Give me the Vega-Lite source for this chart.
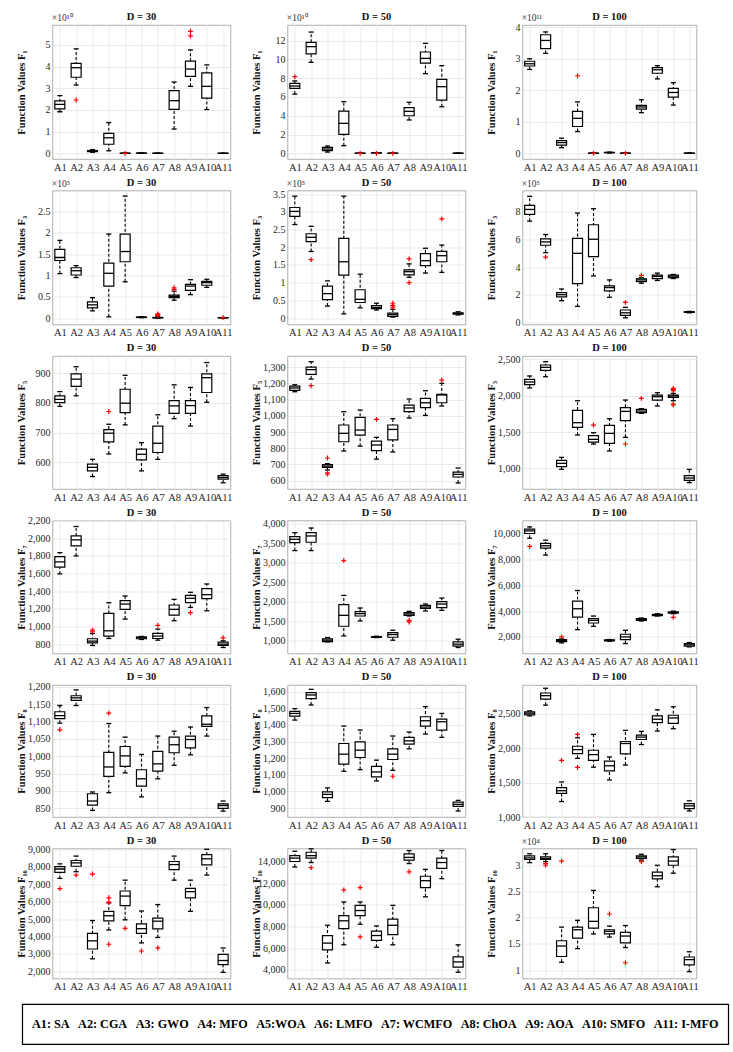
{
"$schema": "https://vega.github.io/schema/vega-lite/v6.json",
"padding": {"left": 16, "top": 11, "right": 3, "bottom": 5},
"background": "white",
"datasets": {"box": [
{"f":"F1","d":30,"a":"A1","lo":1.92,"q1":2.05,"md":2.26,"q3":2.42,"hi":2.66},
{"f":"F1","d":30,"a":"A2","lo":3.15,"q1":3.51,"md":3.95,"q3":4.15,"hi":4.82},
{"f":"F1","d":30,"a":"A3","lo":0.05,"q1":0.08,"md":0.1,"q3":0.13,"hi":0.17},
{"f":"F1","d":30,"a":"A4","lo":0.12,"q1":0.42,"md":0.72,"q3":0.92,"hi":1.42},
{"f":"F1","d":30,"a":"A5","lo":0,"q1":0.004,"md":0.006,"q3":0.008,"hi":0.012},
{"f":"F1","d":30,"a":"A6","lo":0.005,"q1":0.01,"md":0.012,"q3":0.015,"hi":0.02},
{"f":"F1","d":30,"a":"A7","lo":0,"q1":0.003,"md":0.005,"q3":0.007,"hi":0.01},
{"f":"F1","d":30,"a":"A8","lo":1.12,"q1":2.03,"md":2.43,"q3":2.89,"hi":3.29},
{"f":"F1","d":30,"a":"A9","lo":3.09,"q1":3.55,"md":3.89,"q3":4.25,"hi":4.77},
{"f":"F1","d":30,"a":"A10","lo":2.02,"q1":2.55,"md":3.09,"q3":3.71,"hi":4.08},
{"f":"F1","d":30,"a":"A11","lo":0,"q1":0.003,"md":0.005,"q3":0.007,"hi":0.01},
{"f":"F1","d":30,"a":"A2","v":2.46},
{"f":"F1","d":30,"a":"A5","v":0},
{"f":"F1","d":30,"a":"A9","v":5.42},
{"f":"F1","d":30,"a":"A9","v":5.63},
{"f":"F1","d":50,"a":"A1","lo":6.3,"q1":6.91,"md":7.16,"q3":7.45,"hi":7.7},
{"f":"F1","d":50,"a":"A2","lo":9.68,"q1":10.57,"md":11.35,"q3":11.8,"hi":12.9},
{"f":"F1","d":50,"a":"A3","lo":0.14,"q1":0.28,"md":0.46,"q3":0.64,"hi":0.78},
{"f":"F1","d":50,"a":"A4","lo":0.82,"q1":2.02,"md":3.19,"q3":4.5,"hi":5.5},
{"f":"F1","d":50,"a":"A5","lo":0,"q1":0.01,"md":0.015,"q3":0.02,"hi":0.03},
{"f":"F1","d":50,"a":"A6","lo":0.02,"q1":0.04,"md":0.05,"q3":0.06,"hi":0.08},
{"f":"F1","d":50,"a":"A7","lo":0,"q1":0.01,"md":0.015,"q3":0.02,"hi":0.03},
{"f":"F1","d":50,"a":"A8","lo":3.55,"q1":4.0,"md":4.47,"q3":4.86,"hi":5.43},
{"f":"F1","d":50,"a":"A9","lo":8.48,"q1":9.6,"md":10.1,"q3":10.78,"hi":11.7},
{"f":"F1","d":50,"a":"A10","lo":4.96,"q1":5.67,"md":7.09,"q3":7.87,"hi":9.33},
{"f":"F1","d":50,"a":"A11","lo":0,"q1":0.01,"md":0.015,"q3":0.02,"hi":0.03},
{"f":"F1","d":50,"a":"A1","v":8.15},
{"f":"F1","d":50,"a":"A5","v":0},
{"f":"F1","d":50,"a":"A6","v":0},
{"f":"F1","d":50,"a":"A7","v":0},
{"f":"F1","d":100,"a":"A1","lo":2.66,"q1":2.77,"md":2.84,"q3":2.92,"hi":3.0},
{"f":"F1","d":100,"a":"A2","lo":3.17,"q1":3.32,"md":3.58,"q3":3.76,"hi":3.85},
{"f":"F1","d":100,"a":"A3","lo":0.18,"q1":0.26,"md":0.34,"q3":0.4,"hi":0.48},
{"f":"F1","d":100,"a":"A4","lo":0.69,"q1":0.85,"md":1.11,"q3":1.33,"hi":1.63},
{"f":"F1","d":100,"a":"A5","lo":0,"q1":0.003,"md":0.005,"q3":0.007,"hi":0.01},
{"f":"F1","d":100,"a":"A6","lo":0.01,"q1":0.02,"md":0.025,"q3":0.03,"hi":0.04},
{"f":"F1","d":100,"a":"A7","lo":0,"q1":0.003,"md":0.005,"q3":0.007,"hi":0.01},
{"f":"F1","d":100,"a":"A8","lo":1.29,"q1":1.4,"md":1.47,"q3":1.52,"hi":1.7},
{"f":"F1","d":100,"a":"A9","lo":2.36,"q1":2.54,"md":2.65,"q3":2.72,"hi":2.78},
{"f":"F1","d":100,"a":"A10","lo":1.53,"q1":1.78,"md":1.93,"q3":2.06,"hi":2.24},
{"f":"F1","d":100,"a":"A11","lo":0,"q1":0.003,"md":0.005,"q3":0.007,"hi":0.01},
{"f":"F1","d":100,"a":"A4","v":2.46},
{"f":"F1","d":100,"a":"A5","v":0},
{"f":"F1","d":100,"a":"A7","v":0},
{"f":"F3","d":30,"a":"A1","lo":1.04,"q1":1.35,"md":1.42,"q3":1.61,"hi":1.82},
{"f":"F3","d":30,"a":"A2","lo":0.95,"q1":1.01,"md":1.11,"q3":1.18,"hi":1.23},
{"f":"F3","d":30,"a":"A3","lo":0.17,"q1":0.24,"md":0.31,"q3":0.38,"hi":0.48},
{"f":"F3","d":30,"a":"A4","lo":0.03,"q1":0.75,"md":1.05,"q3":1.29,"hi":1.97},
{"f":"F3","d":30,"a":"A5","lo":0.85,"q1":1.32,"md":1.56,"q3":1.97,"hi":2.86},
{"f":"F3","d":30,"a":"A6","lo":0.01,"q1":0.015,"md":0.02,"q3":0.025,"hi":0.03},
{"f":"F3","d":30,"a":"A7","lo":0.0,"q1":0.005,"md":0.01,"q3":0.015,"hi":0.03},
{"f":"F3","d":30,"a":"A8","lo":0.42,"q1":0.48,"md":0.51,"q3":0.54,"hi":0.63},
{"f":"F3","d":30,"a":"A9","lo":0.55,"q1":0.65,"md":0.75,"q3":0.79,"hi":0.9},
{"f":"F3","d":30,"a":"A10","lo":0.72,"q1":0.77,"md":0.83,"q3":0.86,"hi":0.91},
{"f":"F3","d":30,"a":"A11","lo":0.0,"q1":0.005,"md":0.01,"q3":0.012,"hi":0.015},
{"f":"F3","d":30,"a":"A7","v":0.06},
{"f":"F3","d":30,"a":"A7","v":0.08},
{"f":"F3","d":30,"a":"A7","v":0.1},
{"f":"F3","d":30,"a":"A8","v":0.67},
{"f":"F3","d":30,"a":"A8","v":0.71},
{"f":"F3","d":30,"a":"A11","v":0.01},
{"f":"F3","d":50,"a":"A1","lo":2.64,"q1":2.87,"md":3.01,"q3":3.12,"hi":3.44},
{"f":"F3","d":50,"a":"A2","lo":1.88,"q1":2.16,"md":2.28,"q3":2.38,"hi":2.59},
{"f":"F3","d":50,"a":"A3","lo":0.34,"q1":0.52,"md":0.69,"q3":0.9,"hi":1.05},
{"f":"F3","d":50,"a":"A4","lo":0.12,"q1":1.21,"md":1.59,"q3":2.25,"hi":3.44},
{"f":"F3","d":50,"a":"A5","lo":0.29,"q1":0.44,"md":0.53,"q3":0.8,"hi":1.24},
{"f":"F3","d":50,"a":"A6","lo":0.23,"q1":0.27,"md":0.3,"q3":0.35,"hi":0.42},
{"f":"F3","d":50,"a":"A7","lo":0.03,"q1":0.05,"md":0.1,"q3":0.14,"hi":0.25},
{"f":"F3","d":50,"a":"A8","lo":1.15,"q1":1.22,"md":1.31,"q3":1.36,"hi":1.53},
{"f":"F3","d":50,"a":"A9","lo":1.27,"q1":1.48,"md":1.62,"q3":1.82,"hi":1.97},
{"f":"F3","d":50,"a":"A10","lo":1.29,"q1":1.59,"md":1.76,"q3":1.88,"hi":2.06},
{"f":"F3","d":50,"a":"A11","lo":0.09,"q1":0.11,"md":0.13,"q3":0.15,"hi":0.18},
{"f":"F3","d":50,"a":"A2","v":1.65},
{"f":"F3","d":50,"a":"A7","v":0.31},
{"f":"F3","d":50,"a":"A7","v":0.36},
{"f":"F3","d":50,"a":"A7","v":0.42},
{"f":"F3","d":50,"a":"A8","v":1.67},
{"f":"F3","d":50,"a":"A8","v":1.0},
{"f":"F3","d":50,"a":"A10","v":2.8},
{"f":"F3","d":100,"a":"A1","lo":7.3,"q1":7.78,"md":8.14,"q3":8.43,"hi":9.08},
{"f":"F3","d":100,"a":"A2","lo":5.04,"q1":5.57,"md":5.81,"q3":6.02,"hi":6.34},
{"f":"F3","d":100,"a":"A3","lo":1.59,"q1":1.86,"md":2.02,"q3":2.17,"hi":2.43},
{"f":"F3","d":100,"a":"A4","lo":1.18,"q1":2.82,"md":4.99,"q3":6.07,"hi":7.88},
{"f":"F3","d":100,"a":"A5","lo":3.37,"q1":4.75,"md":6.0,"q3":7.04,"hi":8.19},
{"f":"F3","d":100,"a":"A6","lo":1.83,"q1":2.29,"md":2.53,"q3":2.65,"hi":3.08},
{"f":"F3","d":100,"a":"A7","lo":0.36,"q1":0.53,"md":0.72,"q3":0.92,"hi":1.11},
{"f":"F3","d":100,"a":"A8","lo":2.84,"q1":2.96,"md":3.08,"q3":3.16,"hi":3.25},
{"f":"F3","d":100,"a":"A9","lo":3.04,"q1":3.18,"md":3.33,"q3":3.42,"hi":3.57},
{"f":"F3","d":100,"a":"A10","lo":3.18,"q1":3.25,"md":3.35,"q3":3.42,"hi":3.47},
{"f":"F3","d":100,"a":"A11","lo":0.72,"q1":0.75,"md":0.77,"q3":0.8,"hi":0.82},
{"f":"F3","d":100,"a":"A2","v":4.72},
{"f":"F3","d":100,"a":"A7","v":1.47},
{"f":"F3","d":100,"a":"A8","v":3.4},
{"f":"F5","d":30,"a":"A1","lo":788,"q1":801,"md":812,"q3":824,"hi":838},
{"f":"F5","d":30,"a":"A2","lo":824,"q1":856,"md":880,"q3":898,"hi":922},
{"f":"F5","d":30,"a":"A3","lo":552,"q1":571,"md":583,"q3":594,"hi":610},
{"f":"F5","d":30,"a":"A4","lo":628,"q1":669,"md":698,"q3":710,"hi":728},
{"f":"F5","d":30,"a":"A5","lo":726,"q1":767,"md":799,"q3":846,"hi":893},
{"f":"F5","d":30,"a":"A6","lo":571,"q1":608,"md":627,"q3":644,"hi":666},
{"f":"F5","d":30,"a":"A7","lo":610,"q1":633,"md":664,"q3":722,"hi":760},
{"f":"F5","d":30,"a":"A8","lo":747,"q1":765,"md":790,"q3":808,"hi":861},
{"f":"F5","d":30,"a":"A9","lo":722,"q1":765,"md":791,"q3":808,"hi":852},
{"f":"F5","d":30,"a":"A10","lo":802,"q1":835,"md":885,"q3":898,"hi":936},
{"f":"F5","d":30,"a":"A11","lo":531,"q1":543,"md":549,"q3":555,"hi":560},
{"f":"F5","d":30,"a":"A4","v":771},
{"f":"F5","d":50,"a":"A1","lo":1148,"q1":1156,"md":1171,"q3":1183,"hi":1191},
{"f":"F5","d":50,"a":"A2","lo":1226,"q1":1255,"md":1284,"q3":1300,"hi":1333},
{"f":"F5","d":50,"a":"A3","lo":666,"q1":682,"md":690,"q3":699,"hi":705},
{"f":"F5","d":50,"a":"A4","lo":783,"q1":840,"md":892,"q3":943,"hi":1025},
{"f":"F5","d":50,"a":"A5","lo":813,"q1":881,"md":912,"q3":990,"hi":1035},
{"f":"F5","d":50,"a":"A6","lo":733,"q1":785,"md":820,"q3":844,"hi":867},
{"f":"F5","d":50,"a":"A7","lo":777,"q1":851,"md":916,"q3":943,"hi":982},
{"f":"F5","d":50,"a":"A8","lo":986,"q1":1025,"md":1048,"q3":1066,"hi":1103},
{"f":"F5","d":50,"a":"A9","lo":1002,"q1":1050,"md":1080,"q3":1107,"hi":1154},
{"f":"F5","d":50,"a":"A10","lo":1060,"q1":1080,"md":1128,"q3":1132,"hi":1200},
{"f":"F5","d":50,"a":"A11","lo":586,"q1":623,"md":639,"q3":653,"hi":678},
{"f":"F5","d":50,"a":"A2","v":1185},
{"f":"F5","d":50,"a":"A3","v":740},
{"f":"F5","d":50,"a":"A3","v":649},
{"f":"F5","d":50,"a":"A3","v":641},
{"f":"F5","d":50,"a":"A6","v":978},
{"f":"F5","d":50,"a":"A10","v":1220},
{"f":"F5","d":100,"a":"A1","lo":2106,"q1":2151,"md":2188,"q3":2225,"hi":2271},
{"f":"F5","d":100,"a":"A2","lo":2261,"q1":2349,"md":2390,"q3":2422,"hi":2468},
{"f":"F5","d":100,"a":"A3","lo":986,"q1":1023,"md":1069,"q3":1110,"hi":1151},
{"f":"F5","d":100,"a":"A4","lo":1459,"q1":1564,"md":1628,"q3":1798,"hi":1931},
{"f":"F5","d":100,"a":"A5","lo":1335,"q1":1362,"md":1399,"q3":1450,"hi":1491},
{"f":"F5","d":100,"a":"A6","lo":1239,"q1":1344,"md":1482,"q3":1592,"hi":1683},
{"f":"F5","d":100,"a":"A7","lo":1427,"q1":1656,"md":1784,"q3":1835,"hi":1940},
{"f":"F5","d":100,"a":"A8","lo":1757,"q1":1766,"md":1789,"q3":1812,"hi":1821},
{"f":"F5","d":100,"a":"A9","lo":1858,"q1":1940,"md":1986,"q3":2009,"hi":2041},
{"f":"F5","d":100,"a":"A10","lo":1931,"q1":1977,"md":1995,"q3":2009,"hi":2032},
{"f":"F5","d":100,"a":"A11","lo":803,"q1":835,"md":867,"q3":899,"hi":986},
{"f":"F5","d":100,"a":"A5","v":1596},
{"f":"F5","d":100,"a":"A7","v":1335},
{"f":"F5","d":100,"a":"A8","v":1963},
{"f":"F5","d":100,"a":"A10","v":2101},
{"f":"F5","d":100,"a":"A10","v":2069},
{"f":"F5","d":100,"a":"A10","v":2085},
{"f":"F5","d":100,"a":"A10","v":1885},
{"f":"F5","d":100,"a":"A10","v":1872},
{"f":"F7","d":30,"a":"A1","lo":1595,"q1":1671,"md":1731,"q3":1792,"hi":1837},
{"f":"F7","d":30,"a":"A2","lo":1799,"q1":1913,"md":1981,"q3":2026,"hi":2132},
{"f":"F7","d":30,"a":"A3","lo":785,"q1":815,"md":834,"q3":861,"hi":921},
{"f":"F7","d":30,"a":"A4","lo":864,"q1":891,"md":951,"q3":1148,"hi":1269},
{"f":"F7","d":30,"a":"A5","lo":1084,"q1":1194,"md":1254,"q3":1292,"hi":1345},
{"f":"F7","d":30,"a":"A6","lo":853,"q1":861,"md":872,"q3":883,"hi":887},
{"f":"F7","d":30,"a":"A7","lo":845,"q1":864,"md":891,"q3":921,"hi":970},
{"f":"F7","d":30,"a":"A8","lo":1065,"q1":1129,"md":1194,"q3":1243,"hi":1307},
{"f":"F7","d":30,"a":"A9","lo":1216,"q1":1269,"md":1319,"q3":1353,"hi":1387},
{"f":"F7","d":30,"a":"A10","lo":1178,"q1":1315,"md":1360,"q3":1428,"hi":1481},
{"f":"F7","d":30,"a":"A11","lo":762,"q1":785,"md":800,"q3":823,"hi":838},
{"f":"F7","d":30,"a":"A3","v":940},
{"f":"F7","d":30,"a":"A3","v":959},
{"f":"F7","d":30,"a":"A7","v":1012},
{"f":"F7","d":30,"a":"A9","v":1156},
{"f":"F7","d":30,"a":"A11","v":872},
{"f":"F7","d":50,"a":"A1","lo":3312,"q1":3517,"md":3602,"q3":3671,"hi":3773},
{"f":"F7","d":50,"a":"A2","lo":3312,"q1":3526,"md":3688,"q3":3773,"hi":3892},
{"f":"F7","d":50,"a":"A3","lo":966,"q1":974,"md":1009,"q3":1043,"hi":1077},
{"f":"F7","d":50,"a":"A4","lo":1119,"q1":1367,"md":1648,"q3":1921,"hi":2160},
{"f":"F7","d":50,"a":"A5","lo":1503,"q1":1631,"md":1691,"q3":1742,"hi":1836},
{"f":"F7","d":50,"a":"A6","lo":1077,"q1":1085,"md":1094,"q3":1102,"hi":1111},
{"f":"F7","d":50,"a":"A7","lo":1009,"q1":1085,"md":1154,"q3":1205,"hi":1265},
{"f":"F7","d":50,"a":"A8","lo":1631,"q1":1648,"md":1683,"q3":1717,"hi":1751},
{"f":"F7","d":50,"a":"A9","lo":1759,"q1":1828,"md":1862,"q3":1904,"hi":1939},
{"f":"F7","d":50,"a":"A10","lo":1776,"q1":1845,"md":1939,"q3":1998,"hi":2092},
{"f":"F7","d":50,"a":"A11","lo":821,"q1":855,"md":906,"q3":966,"hi":1034},
{"f":"F7","d":50,"a":"A4","v":3056},
{"f":"F7","d":50,"a":"A8","v":1520},
{"f":"F7","d":50,"a":"A8","v":1478},
{"f":"F7","d":100,"a":"A1","lo":9660,"q1":10021,"md":10226,"q3":10355,"hi":10535},
{"f":"F7","d":100,"a":"A2","lo":8350,"q1":8890,"md":9070,"q3":9250,"hi":9506},
{"f":"F7","d":100,"a":"A3","lo":1537,"q1":1640,"md":1717,"q3":1794,"hi":1846},
{"f":"F7","d":100,"a":"A4","lo":2566,"q1":3542,"md":4185,"q3":4776,"hi":5599},
{"f":"F7","d":100,"a":"A5","lo":2823,"q1":3080,"md":3285,"q3":3414,"hi":3620},
{"f":"F7","d":100,"a":"A6","lo":1666,"q1":1692,"md":1743,"q3":1769,"hi":1794},
{"f":"F7","d":100,"a":"A7","lo":1486,"q1":1794,"md":2000,"q3":2206,"hi":2514},
{"f":"F7","d":100,"a":"A8","lo":3234,"q1":3285,"md":3337,"q3":3414,"hi":3465},
{"f":"F7","d":100,"a":"A9","lo":3620,"q1":3645,"md":3697,"q3":3748,"hi":3800},
{"f":"F7","d":100,"a":"A10","lo":3800,"q1":3851,"md":3902,"q3":3954,"hi":4005},
{"f":"F7","d":100,"a":"A11","lo":1229,"q1":1280,"md":1383,"q3":1486,"hi":1563},
{"f":"F7","d":100,"a":"A1","v":9018},
{"f":"F7","d":100,"a":"A3","v":2000},
{"f":"F7","d":100,"a":"A10","v":3517},
{"f":"F8","d":30,"a":"A1","lo":1095,"q1":1108,"md":1117,"q3":1128,"hi":1146},
{"f":"F8","d":30,"a":"A2","lo":1146,"q1":1161,"md":1168,"q3":1174,"hi":1191},
{"f":"F8","d":30,"a":"A3","lo":844,"q1":859,"md":871,"q3":892,"hi":897},
{"f":"F8","d":30,"a":"A4","lo":895,"q1":942,"md":969,"q3":1011,"hi":1094},
{"f":"F8","d":30,"a":"A5","lo":952,"q1":971,"md":1001,"q3":1028,"hi":1055},
{"f":"F8","d":30,"a":"A6","lo":883,"q1":914,"md":935,"q3":961,"hi":1005},
{"f":"F8","d":30,"a":"A7","lo":935,"q1":957,"md":978,"q3":1014,"hi":1058},
{"f":"F8","d":30,"a":"A8","lo":974,"q1":1010,"md":1033,"q3":1055,"hi":1072},
{"f":"F8","d":30,"a":"A9","lo":1004,"q1":1024,"md":1048,"q3":1058,"hi":1084},
{"f":"F8","d":30,"a":"A10","lo":1058,"q1":1086,"md":1092,"q3":1116,"hi":1140},
{"f":"F8","d":30,"a":"A11","lo":842,"q1":850,"md":858,"q3":863,"hi":871},
{"f":"F8","d":30,"a":"A1","v":1076},
{"f":"F8","d":30,"a":"A4","v":1124},
{"f":"F8","d":50,"a":"A1","lo":1429,"q1":1453,"md":1469,"q3":1481,"hi":1498},
{"f":"F8","d":50,"a":"A2","lo":1520,"q1":1558,"md":1580,"q3":1594,"hi":1614},
{"f":"F8","d":50,"a":"A3","lo":940,"q1":962,"md":982,"q3":997,"hi":1021},
{"f":"F8","d":50,"a":"A4","lo":1121,"q1":1164,"md":1224,"q3":1288,"hi":1393},
{"f":"F8","d":50,"a":"A5","lo":1131,"q1":1204,"md":1248,"q3":1298,"hi":1369},
{"f":"F8","d":50,"a":"A6","lo":1063,"q1":1087,"md":1117,"q3":1151,"hi":1188},
{"f":"F8","d":50,"a":"A7","lo":1127,"q1":1192,"md":1224,"q3":1256,"hi":1333},
{"f":"F8","d":50,"a":"A8","lo":1256,"q1":1284,"md":1304,"q3":1325,"hi":1357},
{"f":"F8","d":50,"a":"A9","lo":1345,"q1":1393,"md":1425,"q3":1449,"hi":1510},
{"f":"F8","d":50,"a":"A10","lo":1325,"q1":1369,"md":1419,"q3":1435,"hi":1469},
{"f":"F8","d":50,"a":"A11","lo":882,"q1":910,"md":922,"q3":936,"hi":946},
{"f":"F8","d":50,"a":"A7","v":1091},
{"f":"F8","d":100,"a":"A1","lo":2471,"q1":2485,"md":2510,"q3":2529,"hi":2544},
{"f":"F8","d":100,"a":"A2","lo":2627,"q1":2716,"md":2765,"q3":2804,"hi":2873},
{"f":"F8","d":100,"a":"A3","lo":1225,"q1":1343,"md":1382,"q3":1426,"hi":1510},
{"f":"F8","d":100,"a":"A4","lo":1853,"q1":1922,"md":1980,"q3":2029,"hi":2152},
{"f":"F8","d":100,"a":"A5","lo":1725,"q1":1824,"md":1907,"q3":1971,"hi":2201},
{"f":"F8","d":100,"a":"A6","lo":1539,"q1":1672,"md":1745,"q3":1814,"hi":1873},
{"f":"F8","d":100,"a":"A7","lo":1755,"q1":1917,"md":2069,"q3":2098,"hi":2260},
{"f":"F8","d":100,"a":"A8","lo":2054,"q1":2127,"md":2162,"q3":2191,"hi":2245},
{"f":"F8","d":100,"a":"A9","lo":2250,"q1":2373,"md":2422,"q3":2471,"hi":2559},
{"f":"F8","d":100,"a":"A10","lo":2284,"q1":2363,"md":2441,"q3":2480,"hi":2603},
{"f":"F8","d":100,"a":"A11","lo":1088,"q1":1123,"md":1162,"q3":1196,"hi":1235},
{"f":"F8","d":100,"a":"A3","v":1824},
{"f":"F8","d":100,"a":"A4","v":2201},
{"f":"F8","d":100,"a":"A4","v":1721},
{"f":"F10","d":30,"a":"A1","lo":7331,"q1":7681,"md":7875,"q3":8012,"hi":8167},
{"f":"F10","d":30,"a":"A2","lo":7720,"q1":8031,"md":8226,"q3":8362,"hi":8615},
{"f":"F10","d":30,"a":"A3","lo":2720,"q1":3284,"md":3751,"q3":4179,"hi":4918},
{"f":"F10","d":30,"a":"A4","lo":4374,"q1":4899,"md":5191,"q3":5444,"hi":5930},
{"f":"F10","d":30,"a":"A5","lo":4957,"q1":5774,"md":6319,"q3":6611,"hi":7233},
{"f":"F10","d":30,"a":"A6","lo":3634,"q1":4179,"md":4451,"q3":4724,"hi":5463},
{"f":"F10","d":30,"a":"A7","lo":3946,"q1":4432,"md":4879,"q3":5054,"hi":5833},
{"f":"F10","d":30,"a":"A8","lo":7233,"q1":7837,"md":8128,"q3":8304,"hi":8615},
{"f":"F10","d":30,"a":"A9","lo":5444,"q1":6222,"md":6572,"q3":6767,"hi":7233},
{"f":"F10","d":30,"a":"A10","lo":7525,"q1":8109,"md":8459,"q3":8693,"hi":9004},
{"f":"F10","d":30,"a":"A11","lo":1942,"q1":2389,"md":2623,"q3":2973,"hi":3342},
{"f":"F10","d":30,"a":"A1","v":6747},
{"f":"F10","d":30,"a":"A2","v":7525},
{"f":"F10","d":30,"a":"A3","v":7584},
{"f":"F10","d":30,"a":"A4","v":6222},
{"f":"F10","d":30,"a":"A4","v":5969},
{"f":"F10","d":30,"a":"A4","v":3556},
{"f":"F10","d":30,"a":"A5","v":4471},
{"f":"F10","d":30,"a":"A6","v":3167},
{"f":"F10","d":30,"a":"A7","v":3342},
{"f":"F10","d":50,"a":"A1","lo":13494,"q1":14000,"md":14316,"q3":14538,"hi":14949},
{"f":"F10","d":50,"a":"A2","lo":13905,"q1":14316,"md":14538,"q3":14854,"hi":15171},
{"f":"F10","d":50,"a":"A3","lo":4633,"q1":5835,"md":6468,"q3":7165,"hi":8114},
{"f":"F10","d":50,"a":"A4","lo":6310,"q1":7797,"md":8525,"q3":9000,"hi":10266},
{"f":"F10","d":50,"a":"A5","lo":8209,"q1":9000,"md":9475,"q3":9949,"hi":10266},
{"f":"F10","d":50,"a":"A6","lo":6089,"q1":6722,"md":7165,"q3":7576,"hi":8051},
{"f":"F10","d":50,"a":"A7","lo":6310,"q1":7259,"md":8114,"q3":8684,"hi":9949},
{"f":"F10","d":50,"a":"A8","lo":13810,"q1":14127,"md":14380,"q3":14696,"hi":15013},
{"f":"F10","d":50,"a":"A9","lo":10741,"q1":11595,"md":12228,"q3":12639,"hi":13272},
{"f":"F10","d":50,"a":"A10","lo":12418,"q1":13367,"md":13905,"q3":14316,"hi":15013},
{"f":"F10","d":50,"a":"A11","lo":3778,"q1":4253,"md":4728,"q3":5203,"hi":6310},
{"f":"F10","d":50,"a":"A2","v":13430},
{"f":"F10","d":50,"a":"A4","v":11373},
{"f":"F10","d":50,"a":"A5","v":11595},
{"f":"F10","d":50,"a":"A5","v":7038},
{"f":"F10","d":50,"a":"A8","v":13051},
{"f":"F10","d":100,"a":"A1","lo":3.05,"q1":3.11,"md":3.14,"q3":3.18,"hi":3.22},
{"f":"F10","d":100,"a":"A2","lo":3.07,"q1":3.11,"md":3.13,"q3":3.16,"hi":3.22},
{"f":"F10","d":100,"a":"A3","lo":1.15,"q1":1.26,"md":1.46,"q3":1.56,"hi":1.82},
{"f":"F10","d":100,"a":"A4","lo":1.41,"q1":1.61,"md":1.77,"q3":1.82,"hi":1.95},
{"f":"F10","d":100,"a":"A5","lo":1.69,"q1":1.8,"md":1.93,"q3":2.19,"hi":2.52},
{"f":"F10","d":100,"a":"A6","lo":1.63,"q1":1.69,"md":1.74,"q3":1.77,"hi":1.84},
{"f":"F10","d":100,"a":"A7","lo":1.43,"q1":1.52,"md":1.65,"q3":1.72,"hi":1.85},
{"f":"F10","d":100,"a":"A8","lo":3.1,"q1":3.13,"md":3.16,"q3":3.18,"hi":3.21},
{"f":"F10","d":100,"a":"A9","lo":2.59,"q1":2.74,"md":2.8,"q3":2.87,"hi":3.0},
{"f":"F10","d":100,"a":"A10","lo":2.85,"q1":3.0,"md":3.08,"q3":3.16,"hi":3.3},
{"f":"F10","d":100,"a":"A11","lo":0.97,"q1":1.1,"md":1.2,"q3":1.25,"hi":1.35},
{"f":"F10","d":100,"a":"A2","v":3.03},
{"f":"F10","d":100,"a":"A2","v":3.0},
{"f":"F10","d":100,"a":"A3","v":3.08},
{"f":"F10","d":100,"a":"A6","v":2.07},
{"f":"F10","d":100,"a":"A7","v":1.14},
{"f":"F10","d":100,"a":"A8","v":3.07}
]},
"data": {"name": "box"},
"spacing": 10,
"center": true,
"vconcat": [
{"columns": 3, "spacing": {"row": 3.5, "column": 19}, "align": "each", "concat": [
{"width":178,"height":134,"transform":[{"filter":"datum.f=='F1'&&datum.d==30"}],"encoding":{"x":{"field":"a","type":"nominal","scale":{"type":"point","domain":["A1","A2","A3","A4","A5","A6","A7","A8","A9","A10","A11"],"padding":0.45},"axis":{"title":null,"grid":true}}},"layer":[
{"mark":{"type":"rule","strokeDash":[3,2],"strokeWidth":1.1},"encoding":{"y":{"field":"lo","type":"quantitative","scale":{"domain":[-0.26,5.92],"nice":false,"zero":false},"axis":{"values":[0,1,2,3,4,5],"tickCount":30,"labelOverlap":false,"title":"Function Values F₁"}},"y2":{"field":"hi"}}},
{"mark":{"type":"tick","size":5,"thickness":1.3},"encoding":{"y":{"field":"lo","type":"quantitative"}}},
{"mark":{"type":"tick","size":5,"thickness":1.3},"encoding":{"y":{"field":"hi","type":"quantitative"}}},
{"mark":{"type":"bar","width":10,"fill":"white","stroke":"black","strokeWidth":1.2},"encoding":{"y":{"field":"q1","type":"quantitative"},"y2":{"field":"q3"}}},
{"mark":{"type":"tick","size":10,"thickness":1.3},"encoding":{"y":{"field":"md","type":"quantitative"}}},
{"mark":{"type":"point","shape":"M-1,0H1M0,-1V1","size":24,"stroke":"#ff0000","strokeWidth":1.2,"filled":false},"encoding":{"y":{"field":"v","type":"quantitative"}}},
{"transform":[{"filter":"datum.a=='A1'&&isValid(datum.lo)"}],"mark":{"type":"text","text":"×10¹⁰","align":"left","baseline":"bottom","dx":-8,"dy":-2,"fontSize":9.5,"color":"#333"},"encoding":{"y":{"datum":5.92,"type":"quantitative"}}},
{"transform":[{"filter":"datum.a=='A1'&&isValid(datum.lo)"}],"mark":{"type":"text","text":"D = 30","baseline":"bottom","dy":-3,"fontSize":10.5,"fontWeight":"bold","color":"#111"},"encoding":{"x":{"datum":"A6"},"y":{"datum":5.92,"type":"quantitative"}}}
]},
{"width":178,"height":134,"transform":[{"filter":"datum.f=='F1'&&datum.d==50"}],"encoding":{"x":{"field":"a","type":"nominal","scale":{"type":"point","domain":["A1","A2","A3","A4","A5","A6","A7","A8","A9","A10","A11"],"padding":0.45},"axis":{"title":null,"grid":true}}},"layer":[
{"mark":{"type":"rule","strokeDash":[3,2],"strokeWidth":1.1},"encoding":{"y":{"field":"lo","type":"quantitative","scale":{"domain":[-0.6,13.65],"nice":false,"zero":false},"axis":{"values":[0,2,4,6,8,10,12],"tickCount":30,"labelOverlap":false,"title":"Function Values F₁"}},"y2":{"field":"hi"}}},
{"mark":{"type":"tick","size":5,"thickness":1.3},"encoding":{"y":{"field":"lo","type":"quantitative"}}},
{"mark":{"type":"tick","size":5,"thickness":1.3},"encoding":{"y":{"field":"hi","type":"quantitative"}}},
{"mark":{"type":"bar","width":10,"fill":"white","stroke":"black","strokeWidth":1.2},"encoding":{"y":{"field":"q1","type":"quantitative"},"y2":{"field":"q3"}}},
{"mark":{"type":"tick","size":10,"thickness":1.3},"encoding":{"y":{"field":"md","type":"quantitative"}}},
{"mark":{"type":"point","shape":"M-1,0H1M0,-1V1","size":24,"stroke":"#ff0000","strokeWidth":1.2,"filled":false},"encoding":{"y":{"field":"v","type":"quantitative"}}},
{"transform":[{"filter":"datum.a=='A1'&&isValid(datum.lo)"}],"mark":{"type":"text","text":"×10¹⁰","align":"left","baseline":"bottom","dx":-8,"dy":-2,"fontSize":9.5,"color":"#333"},"encoding":{"y":{"datum":13.65,"type":"quantitative"}}},
{"transform":[{"filter":"datum.a=='A1'&&isValid(datum.lo)"}],"mark":{"type":"text","text":"D = 50","baseline":"bottom","dy":-3,"fontSize":10.5,"fontWeight":"bold","color":"#111"},"encoding":{"x":{"datum":"A6"},"y":{"datum":13.65,"type":"quantitative"}}}
]},
{"width":174,"height":134,"transform":[{"filter":"datum.f=='F1'&&datum.d==100"}],"encoding":{"x":{"field":"a","type":"nominal","scale":{"type":"point","domain":["A1","A2","A3","A4","A5","A6","A7","A8","A9","A10","A11"],"padding":0.45},"axis":{"title":null,"grid":true}}},"layer":[
{"mark":{"type":"rule","strokeDash":[3,2],"strokeWidth":1.1},"encoding":{"y":{"field":"lo","type":"quantitative","scale":{"domain":[-0.18,4.07],"nice":false,"zero":false},"axis":{"values":[0,1,2,3,4],"tickCount":30,"labelOverlap":false,"title":"Function Values F₁"}},"y2":{"field":"hi"}}},
{"mark":{"type":"tick","size":5,"thickness":1.3},"encoding":{"y":{"field":"lo","type":"quantitative"}}},
{"mark":{"type":"tick","size":5,"thickness":1.3},"encoding":{"y":{"field":"hi","type":"quantitative"}}},
{"mark":{"type":"bar","width":10,"fill":"white","stroke":"black","strokeWidth":1.2},"encoding":{"y":{"field":"q1","type":"quantitative"},"y2":{"field":"q3"}}},
{"mark":{"type":"tick","size":10,"thickness":1.3},"encoding":{"y":{"field":"md","type":"quantitative"}}},
{"mark":{"type":"point","shape":"M-1,0H1M0,-1V1","size":24,"stroke":"#ff0000","strokeWidth":1.2,"filled":false},"encoding":{"y":{"field":"v","type":"quantitative"}}},
{"transform":[{"filter":"datum.a=='A1'&&isValid(datum.lo)"}],"mark":{"type":"text","text":"×10¹¹","align":"left","baseline":"bottom","dx":-8,"dy":-2,"fontSize":9.5,"color":"#333"},"encoding":{"y":{"datum":4.07,"type":"quantitative"}}},
{"transform":[{"filter":"datum.a=='A1'&&isValid(datum.lo)"}],"mark":{"type":"text","text":"D = 100","baseline":"bottom","dy":-3,"fontSize":10.5,"fontWeight":"bold","color":"#111"},"encoding":{"x":{"datum":"A6"},"y":{"datum":4.07,"type":"quantitative"}}}
]},
{"width":178,"height":134,"transform":[{"filter":"datum.f=='F3'&&datum.d==30"}],"encoding":{"x":{"field":"a","type":"nominal","scale":{"type":"point","domain":["A1","A2","A3","A4","A5","A6","A7","A8","A9","A10","A11"],"padding":0.45},"axis":{"title":null,"grid":true}}},"layer":[
{"mark":{"type":"rule","strokeDash":[3,2],"strokeWidth":1.1},"encoding":{"y":{"field":"lo","type":"quantitative","scale":{"domain":[-0.15,2.99],"nice":false,"zero":false},"axis":{"values":[0,0.5,1,1.5,2,2.5],"tickCount":30,"labelOverlap":false,"title":"Function Values F₃"}},"y2":{"field":"hi"}}},
{"mark":{"type":"tick","size":5,"thickness":1.3},"encoding":{"y":{"field":"lo","type":"quantitative"}}},
{"mark":{"type":"tick","size":5,"thickness":1.3},"encoding":{"y":{"field":"hi","type":"quantitative"}}},
{"mark":{"type":"bar","width":10,"fill":"white","stroke":"black","strokeWidth":1.2},"encoding":{"y":{"field":"q1","type":"quantitative"},"y2":{"field":"q3"}}},
{"mark":{"type":"tick","size":10,"thickness":1.3},"encoding":{"y":{"field":"md","type":"quantitative"}}},
{"mark":{"type":"point","shape":"M-1,0H1M0,-1V1","size":24,"stroke":"#ff0000","strokeWidth":1.2,"filled":false},"encoding":{"y":{"field":"v","type":"quantitative"}}},
{"transform":[{"filter":"datum.a=='A1'&&isValid(datum.lo)"}],"mark":{"type":"text","text":"×10⁵","align":"left","baseline":"bottom","dx":-8,"dy":-2,"fontSize":9.5,"color":"#333"},"encoding":{"y":{"datum":2.99,"type":"quantitative"}}},
{"transform":[{"filter":"datum.a=='A1'&&isValid(datum.lo)"}],"mark":{"type":"text","text":"D = 30","baseline":"bottom","dy":-3,"fontSize":10.5,"fontWeight":"bold","color":"#111"},"encoding":{"x":{"datum":"A6"},"y":{"datum":2.99,"type":"quantitative"}}}
]},
{"width":178,"height":134,"transform":[{"filter":"datum.f=='F3'&&datum.d==50"}],"encoding":{"x":{"field":"a","type":"nominal","scale":{"type":"point","domain":["A1","A2","A3","A4","A5","A6","A7","A8","A9","A10","A11"],"padding":0.45},"axis":{"title":null,"grid":true}}},"layer":[
{"mark":{"type":"rule","strokeDash":[3,2],"strokeWidth":1.1},"encoding":{"y":{"field":"lo","type":"quantitative","scale":{"domain":[-0.18,3.6],"nice":false,"zero":false},"axis":{"values":[0,0.5,1,1.5,2,2.5,3,3.5],"tickCount":30,"labelOverlap":false,"title":"Function Values F₃"}},"y2":{"field":"hi"}}},
{"mark":{"type":"tick","size":5,"thickness":1.3},"encoding":{"y":{"field":"lo","type":"quantitative"}}},
{"mark":{"type":"tick","size":5,"thickness":1.3},"encoding":{"y":{"field":"hi","type":"quantitative"}}},
{"mark":{"type":"bar","width":10,"fill":"white","stroke":"black","strokeWidth":1.2},"encoding":{"y":{"field":"q1","type":"quantitative"},"y2":{"field":"q3"}}},
{"mark":{"type":"tick","size":10,"thickness":1.3},"encoding":{"y":{"field":"md","type":"quantitative"}}},
{"mark":{"type":"point","shape":"M-1,0H1M0,-1V1","size":24,"stroke":"#ff0000","strokeWidth":1.2,"filled":false},"encoding":{"y":{"field":"v","type":"quantitative"}}},
{"transform":[{"filter":"datum.a=='A1'&&isValid(datum.lo)"}],"mark":{"type":"text","text":"×10⁵","align":"left","baseline":"bottom","dx":-8,"dy":-2,"fontSize":9.5,"color":"#333"},"encoding":{"y":{"datum":3.6,"type":"quantitative"}}},
{"transform":[{"filter":"datum.a=='A1'&&isValid(datum.lo)"}],"mark":{"type":"text","text":"D = 50","baseline":"bottom","dy":-3,"fontSize":10.5,"fontWeight":"bold","color":"#111"},"encoding":{"x":{"datum":"A6"},"y":{"datum":3.6,"type":"quantitative"}}}
]},
{"width":174,"height":134,"transform":[{"filter":"datum.f=='F3'&&datum.d==100"}],"encoding":{"x":{"field":"a","type":"nominal","scale":{"type":"point","domain":["A1","A2","A3","A4","A5","A6","A7","A8","A9","A10","A11"],"padding":0.45},"axis":{"title":null,"grid":true}}},"layer":[
{"mark":{"type":"rule","strokeDash":[3,2],"strokeWidth":1.1},"encoding":{"y":{"field":"lo","type":"quantitative","scale":{"domain":[-0.12,9.5],"nice":false,"zero":false},"axis":{"values":[0,2,4,6,8],"tickCount":30,"labelOverlap":false,"title":"Function Values F₃"}},"y2":{"field":"hi"}}},
{"mark":{"type":"tick","size":5,"thickness":1.3},"encoding":{"y":{"field":"lo","type":"quantitative"}}},
{"mark":{"type":"tick","size":5,"thickness":1.3},"encoding":{"y":{"field":"hi","type":"quantitative"}}},
{"mark":{"type":"bar","width":10,"fill":"white","stroke":"black","strokeWidth":1.2},"encoding":{"y":{"field":"q1","type":"quantitative"},"y2":{"field":"q3"}}},
{"mark":{"type":"tick","size":10,"thickness":1.3},"encoding":{"y":{"field":"md","type":"quantitative"}}},
{"mark":{"type":"point","shape":"M-1,0H1M0,-1V1","size":24,"stroke":"#ff0000","strokeWidth":1.2,"filled":false},"encoding":{"y":{"field":"v","type":"quantitative"}}},
{"transform":[{"filter":"datum.a=='A1'&&isValid(datum.lo)"}],"mark":{"type":"text","text":"×10⁵","align":"left","baseline":"bottom","dx":-8,"dy":-2,"fontSize":9.5,"color":"#333"},"encoding":{"y":{"datum":9.5,"type":"quantitative"}}},
{"transform":[{"filter":"datum.a=='A1'&&isValid(datum.lo)"}],"mark":{"type":"text","text":"D = 100","baseline":"bottom","dy":-3,"fontSize":10.5,"fontWeight":"bold","color":"#111"},"encoding":{"x":{"datum":"A6"},"y":{"datum":9.5,"type":"quantitative"}}}
]},
{"width":178,"height":133,"transform":[{"filter":"datum.f=='F5'&&datum.d==30"}],"encoding":{"x":{"field":"a","type":"nominal","scale":{"type":"point","domain":["A1","A2","A3","A4","A5","A6","A7","A8","A9","A10","A11"],"padding":0.45},"axis":{"title":null,"grid":true}}},"layer":[
{"mark":{"type":"rule","strokeDash":[3,2],"strokeWidth":1.1},"encoding":{"y":{"field":"lo","type":"quantitative","scale":{"domain":[510,958],"nice":false,"zero":false},"axis":{"values":[600,700,800,900],"tickCount":30,"labelOverlap":false,"title":"Function Values F₅"}},"y2":{"field":"hi"}}},
{"mark":{"type":"tick","size":5,"thickness":1.3},"encoding":{"y":{"field":"lo","type":"quantitative"}}},
{"mark":{"type":"tick","size":5,"thickness":1.3},"encoding":{"y":{"field":"hi","type":"quantitative"}}},
{"mark":{"type":"bar","width":10,"fill":"white","stroke":"black","strokeWidth":1.2},"encoding":{"y":{"field":"q1","type":"quantitative"},"y2":{"field":"q3"}}},
{"mark":{"type":"tick","size":10,"thickness":1.3},"encoding":{"y":{"field":"md","type":"quantitative"}}},
{"mark":{"type":"point","shape":"M-1,0H1M0,-1V1","size":24,"stroke":"#ff0000","strokeWidth":1.2,"filled":false},"encoding":{"y":{"field":"v","type":"quantitative"}}},
{"transform":[{"filter":"datum.a=='A1'&&isValid(datum.lo)"}],"mark":{"type":"text","text":"D = 30","baseline":"bottom","dy":-3,"fontSize":10.5,"fontWeight":"bold","color":"#111"},"encoding":{"x":{"datum":"A6"},"y":{"datum":958,"type":"quantitative"}}}
]},
{"width":178,"height":133,"transform":[{"filter":"datum.f=='F5'&&datum.d==50"}],"encoding":{"x":{"field":"a","type":"nominal","scale":{"type":"point","domain":["A1","A2","A3","A4","A5","A6","A7","A8","A9","A10","A11"],"padding":0.45},"axis":{"title":null,"grid":true}}},"layer":[
{"mark":{"type":"rule","strokeDash":[3,2],"strokeWidth":1.1},"encoding":{"y":{"field":"lo","type":"quantitative","scale":{"domain":[549,1368],"nice":false,"zero":false},"axis":{"values":[600,700,800,900,1000,1100,1200,1300],"tickCount":30,"labelOverlap":false,"title":"Function Values F₅"}},"y2":{"field":"hi"}}},
{"mark":{"type":"tick","size":5,"thickness":1.3},"encoding":{"y":{"field":"lo","type":"quantitative"}}},
{"mark":{"type":"tick","size":5,"thickness":1.3},"encoding":{"y":{"field":"hi","type":"quantitative"}}},
{"mark":{"type":"bar","width":10,"fill":"white","stroke":"black","strokeWidth":1.2},"encoding":{"y":{"field":"q1","type":"quantitative"},"y2":{"field":"q3"}}},
{"mark":{"type":"tick","size":10,"thickness":1.3},"encoding":{"y":{"field":"md","type":"quantitative"}}},
{"mark":{"type":"point","shape":"M-1,0H1M0,-1V1","size":24,"stroke":"#ff0000","strokeWidth":1.2,"filled":false},"encoding":{"y":{"field":"v","type":"quantitative"}}},
{"transform":[{"filter":"datum.a=='A1'&&isValid(datum.lo)"}],"mark":{"type":"text","text":"D = 50","baseline":"bottom","dy":-3,"fontSize":10.5,"fontWeight":"bold","color":"#111"},"encoding":{"x":{"datum":"A6"},"y":{"datum":1368,"type":"quantitative"}}}
]},
{"width":174,"height":133,"transform":[{"filter":"datum.f=='F5'&&datum.d==100"}],"encoding":{"x":{"field":"a","type":"nominal","scale":{"type":"point","domain":["A1","A2","A3","A4","A5","A6","A7","A8","A9","A10","A11"],"padding":0.45},"axis":{"title":null,"grid":true}}},"layer":[
{"mark":{"type":"rule","strokeDash":[3,2],"strokeWidth":1.1},"encoding":{"y":{"field":"lo","type":"quantitative","scale":{"domain":[716,2546],"nice":false,"zero":false},"axis":{"values":[1000,1500,2000,2500],"tickCount":30,"labelOverlap":false,"title":"Function Values F₅"}},"y2":{"field":"hi"}}},
{"mark":{"type":"tick","size":5,"thickness":1.3},"encoding":{"y":{"field":"lo","type":"quantitative"}}},
{"mark":{"type":"tick","size":5,"thickness":1.3},"encoding":{"y":{"field":"hi","type":"quantitative"}}},
{"mark":{"type":"bar","width":10,"fill":"white","stroke":"black","strokeWidth":1.2},"encoding":{"y":{"field":"q1","type":"quantitative"},"y2":{"field":"q3"}}},
{"mark":{"type":"tick","size":10,"thickness":1.3},"encoding":{"y":{"field":"md","type":"quantitative"}}},
{"mark":{"type":"point","shape":"M-1,0H1M0,-1V1","size":24,"stroke":"#ff0000","strokeWidth":1.2,"filled":false},"encoding":{"y":{"field":"v","type":"quantitative"}}},
{"transform":[{"filter":"datum.a=='A1'&&isValid(datum.lo)"}],"mark":{"type":"text","text":"D = 100","baseline":"bottom","dy":-3,"fontSize":10.5,"fontWeight":"bold","color":"#111"},"encoding":{"x":{"datum":"A6"},"y":{"datum":2546,"type":"quantitative"}}}
]},
{"width":178,"height":133,"transform":[{"filter":"datum.f=='F7'&&datum.d==30"}],"encoding":{"x":{"field":"a","type":"nominal","scale":{"type":"point","domain":["A1","A2","A3","A4","A5","A6","A7","A8","A9","A10","A11"],"padding":0.45},"axis":{"title":null,"grid":true}}},"layer":[
{"mark":{"type":"rule","strokeDash":[3,2],"strokeWidth":1.1},"encoding":{"y":{"field":"lo","type":"quantitative","scale":{"domain":[694,2200],"nice":false,"zero":false},"axis":{"values":[800,1000,1200,1400,1600,1800,2000,2200],"tickCount":30,"labelOverlap":false,"title":"Function Values F₇"}},"y2":{"field":"hi"}}},
{"mark":{"type":"tick","size":5,"thickness":1.3},"encoding":{"y":{"field":"lo","type":"quantitative"}}},
{"mark":{"type":"tick","size":5,"thickness":1.3},"encoding":{"y":{"field":"hi","type":"quantitative"}}},
{"mark":{"type":"bar","width":10,"fill":"white","stroke":"black","strokeWidth":1.2},"encoding":{"y":{"field":"q1","type":"quantitative"},"y2":{"field":"q3"}}},
{"mark":{"type":"tick","size":10,"thickness":1.3},"encoding":{"y":{"field":"md","type":"quantitative"}}},
{"mark":{"type":"point","shape":"M-1,0H1M0,-1V1","size":24,"stroke":"#ff0000","strokeWidth":1.2,"filled":false},"encoding":{"y":{"field":"v","type":"quantitative"}}},
{"transform":[{"filter":"datum.a=='A1'&&isValid(datum.lo)"}],"mark":{"type":"text","text":"D = 30","baseline":"bottom","dy":-3,"fontSize":10.5,"fontWeight":"bold","color":"#111"},"encoding":{"x":{"datum":"A6"},"y":{"datum":2200,"type":"quantitative"}}}
]},
{"width":178,"height":133,"transform":[{"filter":"datum.f=='F7'&&datum.d==50"}],"encoding":{"x":{"field":"a","type":"nominal","scale":{"type":"point","domain":["A1","A2","A3","A4","A5","A6","A7","A8","A9","A10","A11"],"padding":0.45},"axis":{"title":null,"grid":true}}},"layer":[
{"mark":{"type":"rule","strokeDash":[3,2],"strokeWidth":1.1},"encoding":{"y":{"field":"lo","type":"quantitative","scale":{"domain":[667,4085],"nice":false,"zero":false},"axis":{"values":[1000,1500,2000,2500,3000,3500,4000],"tickCount":30,"labelOverlap":false,"title":"Function Values F₇"}},"y2":{"field":"hi"}}},
{"mark":{"type":"tick","size":5,"thickness":1.3},"encoding":{"y":{"field":"lo","type":"quantitative"}}},
{"mark":{"type":"tick","size":5,"thickness":1.3},"encoding":{"y":{"field":"hi","type":"quantitative"}}},
{"mark":{"type":"bar","width":10,"fill":"white","stroke":"black","strokeWidth":1.2},"encoding":{"y":{"field":"q1","type":"quantitative"},"y2":{"field":"q3"}}},
{"mark":{"type":"tick","size":10,"thickness":1.3},"encoding":{"y":{"field":"md","type":"quantitative"}}},
{"mark":{"type":"point","shape":"M-1,0H1M0,-1V1","size":24,"stroke":"#ff0000","strokeWidth":1.2,"filled":false},"encoding":{"y":{"field":"v","type":"quantitative"}}},
{"transform":[{"filter":"datum.a=='A1'&&isValid(datum.lo)"}],"mark":{"type":"text","text":"D = 50","baseline":"bottom","dy":-3,"fontSize":10.5,"fontWeight":"bold","color":"#111"},"encoding":{"x":{"datum":"A6"},"y":{"datum":4085,"type":"quantitative"}}}
]},
{"width":174,"height":133,"transform":[{"filter":"datum.f=='F7'&&datum.d==100"}],"encoding":{"x":{"field":"a","type":"nominal","scale":{"type":"point","domain":["A1","A2","A3","A4","A5","A6","A7","A8","A9","A10","A11"],"padding":0.45},"axis":{"title":null,"grid":true}}},"layer":[
{"mark":{"type":"rule","strokeDash":[3,2],"strokeWidth":1.1},"encoding":{"y":{"field":"lo","type":"quantitative","scale":{"domain":[714,11030],"nice":false,"zero":false},"axis":{"values":[2000,4000,6000,8000,10000],"tickCount":30,"labelOverlap":false,"title":"Function Values F₇"}},"y2":{"field":"hi"}}},
{"mark":{"type":"tick","size":5,"thickness":1.3},"encoding":{"y":{"field":"lo","type":"quantitative"}}},
{"mark":{"type":"tick","size":5,"thickness":1.3},"encoding":{"y":{"field":"hi","type":"quantitative"}}},
{"mark":{"type":"bar","width":10,"fill":"white","stroke":"black","strokeWidth":1.2},"encoding":{"y":{"field":"q1","type":"quantitative"},"y2":{"field":"q3"}}},
{"mark":{"type":"tick","size":10,"thickness":1.3},"encoding":{"y":{"field":"md","type":"quantitative"}}},
{"mark":{"type":"point","shape":"M-1,0H1M0,-1V1","size":24,"stroke":"#ff0000","strokeWidth":1.2,"filled":false},"encoding":{"y":{"field":"v","type":"quantitative"}}},
{"transform":[{"filter":"datum.a=='A1'&&isValid(datum.lo)"}],"mark":{"type":"text","text":"D = 100","baseline":"bottom","dy":-3,"fontSize":10.5,"fontWeight":"bold","color":"#111"},"encoding":{"x":{"datum":"A6"},"y":{"datum":11030,"type":"quantitative"}}}
]},
{"width":178,"height":132,"transform":[{"filter":"datum.f=='F8'&&datum.d==30"}],"encoding":{"x":{"field":"a","type":"nominal","scale":{"type":"point","domain":["A1","A2","A3","A4","A5","A6","A7","A8","A9","A10","A11"],"padding":0.45},"axis":{"title":null,"grid":true}}},"layer":[
{"mark":{"type":"rule","strokeDash":[3,2],"strokeWidth":1.1},"encoding":{"y":{"field":"lo","type":"quantitative","scale":{"domain":[825,1205],"nice":false,"zero":false},"axis":{"values":[850,900,950,1000,1050,1100,1150,1200],"tickCount":30,"labelOverlap":false,"title":"Function Values F₈"}},"y2":{"field":"hi"}}},
{"mark":{"type":"tick","size":5,"thickness":1.3},"encoding":{"y":{"field":"lo","type":"quantitative"}}},
{"mark":{"type":"tick","size":5,"thickness":1.3},"encoding":{"y":{"field":"hi","type":"quantitative"}}},
{"mark":{"type":"bar","width":10,"fill":"white","stroke":"black","strokeWidth":1.2},"encoding":{"y":{"field":"q1","type":"quantitative"},"y2":{"field":"q3"}}},
{"mark":{"type":"tick","size":10,"thickness":1.3},"encoding":{"y":{"field":"md","type":"quantitative"}}},
{"mark":{"type":"point","shape":"M-1,0H1M0,-1V1","size":24,"stroke":"#ff0000","strokeWidth":1.2,"filled":false},"encoding":{"y":{"field":"v","type":"quantitative"}}},
{"transform":[{"filter":"datum.a=='A1'&&isValid(datum.lo)"}],"mark":{"type":"text","text":"D = 30","baseline":"bottom","dy":-3,"fontSize":10.5,"fontWeight":"bold","color":"#111"},"encoding":{"x":{"datum":"A6"},"y":{"datum":1205,"type":"quantitative"}}}
]},
{"width":178,"height":132,"transform":[{"filter":"datum.f=='F8'&&datum.d==50"}],"encoding":{"x":{"field":"a","type":"nominal","scale":{"type":"point","domain":["A1","A2","A3","A4","A5","A6","A7","A8","A9","A10","A11"],"padding":0.45},"axis":{"title":null,"grid":true}}},"layer":[
{"mark":{"type":"rule","strokeDash":[3,2],"strokeWidth":1.1},"encoding":{"y":{"field":"lo","type":"quantitative","scale":{"domain":[846,1640],"nice":false,"zero":false},"axis":{"values":[900,1000,1100,1200,1300,1400,1500,1600],"tickCount":30,"labelOverlap":false,"title":"Function Values F₈"}},"y2":{"field":"hi"}}},
{"mark":{"type":"tick","size":5,"thickness":1.3},"encoding":{"y":{"field":"lo","type":"quantitative"}}},
{"mark":{"type":"tick","size":5,"thickness":1.3},"encoding":{"y":{"field":"hi","type":"quantitative"}}},
{"mark":{"type":"bar","width":10,"fill":"white","stroke":"black","strokeWidth":1.2},"encoding":{"y":{"field":"q1","type":"quantitative"},"y2":{"field":"q3"}}},
{"mark":{"type":"tick","size":10,"thickness":1.3},"encoding":{"y":{"field":"md","type":"quantitative"}}},
{"mark":{"type":"point","shape":"M-1,0H1M0,-1V1","size":24,"stroke":"#ff0000","strokeWidth":1.2,"filled":false},"encoding":{"y":{"field":"v","type":"quantitative"}}},
{"transform":[{"filter":"datum.a=='A1'&&isValid(datum.lo)"}],"mark":{"type":"text","text":"D = 50","baseline":"bottom","dy":-3,"fontSize":10.5,"fontWeight":"bold","color":"#111"},"encoding":{"x":{"datum":"A6"},"y":{"datum":1640,"type":"quantitative"}}}
]},
{"width":174,"height":132,"transform":[{"filter":"datum.f=='F8'&&datum.d==100"}],"encoding":{"x":{"field":"a","type":"nominal","scale":{"type":"point","domain":["A1","A2","A3","A4","A5","A6","A7","A8","A9","A10","A11"],"padding":0.45},"axis":{"title":null,"grid":true}}},"layer":[
{"mark":{"type":"rule","strokeDash":[3,2],"strokeWidth":1.1},"encoding":{"y":{"field":"lo","type":"quantitative","scale":{"domain":[1000,2920],"nice":false,"zero":false},"axis":{"values":[1000,1500,2000,2500],"tickCount":30,"labelOverlap":false,"title":"Function Values F₈"}},"y2":{"field":"hi"}}},
{"mark":{"type":"tick","size":5,"thickness":1.3},"encoding":{"y":{"field":"lo","type":"quantitative"}}},
{"mark":{"type":"tick","size":5,"thickness":1.3},"encoding":{"y":{"field":"hi","type":"quantitative"}}},
{"mark":{"type":"bar","width":10,"fill":"white","stroke":"black","strokeWidth":1.2},"encoding":{"y":{"field":"q1","type":"quantitative"},"y2":{"field":"q3"}}},
{"mark":{"type":"tick","size":10,"thickness":1.3},"encoding":{"y":{"field":"md","type":"quantitative"}}},
{"mark":{"type":"point","shape":"M-1,0H1M0,-1V1","size":24,"stroke":"#ff0000","strokeWidth":1.2,"filled":false},"encoding":{"y":{"field":"v","type":"quantitative"}}},
{"transform":[{"filter":"datum.a=='A1'&&isValid(datum.lo)"}],"mark":{"type":"text","text":"D = 100","baseline":"bottom","dy":-3,"fontSize":10.5,"fontWeight":"bold","color":"#111"},"encoding":{"x":{"datum":"A6"},"y":{"datum":2920,"type":"quantitative"}}}
]},
{"width":178,"height":130,"transform":[{"filter":"datum.f=='F10'&&datum.d==30"}],"encoding":{"x":{"field":"a","type":"nominal","scale":{"type":"point","domain":["A1","A2","A3","A4","A5","A6","A7","A8","A9","A10","A11"],"padding":0.45},"axis":{"title":null,"grid":true}}},"layer":[
{"mark":{"type":"rule","strokeDash":[3,2],"strokeWidth":1.1},"encoding":{"y":{"field":"lo","type":"quantitative","scale":{"domain":[1590,9050],"nice":false,"zero":false},"axis":{"values":[2000,3000,4000,5000,6000,7000,8000,9000],"tickCount":30,"labelOverlap":false,"title":"Function Values F₁₀"}},"y2":{"field":"hi"}}},
{"mark":{"type":"tick","size":5,"thickness":1.3},"encoding":{"y":{"field":"lo","type":"quantitative"}}},
{"mark":{"type":"tick","size":5,"thickness":1.3},"encoding":{"y":{"field":"hi","type":"quantitative"}}},
{"mark":{"type":"bar","width":10,"fill":"white","stroke":"black","strokeWidth":1.2},"encoding":{"y":{"field":"q1","type":"quantitative"},"y2":{"field":"q3"}}},
{"mark":{"type":"tick","size":10,"thickness":1.3},"encoding":{"y":{"field":"md","type":"quantitative"}}},
{"mark":{"type":"point","shape":"M-1,0H1M0,-1V1","size":24,"stroke":"#ff0000","strokeWidth":1.2,"filled":false},"encoding":{"y":{"field":"v","type":"quantitative"}}},
{"transform":[{"filter":"datum.a=='A1'&&isValid(datum.lo)"}],"mark":{"type":"text","text":"D = 30","baseline":"bottom","dy":-3,"fontSize":10.5,"fontWeight":"bold","color":"#111"},"encoding":{"x":{"datum":"A6"},"y":{"datum":9050,"type":"quantitative"}}}
]},
{"width":178,"height":130,"transform":[{"filter":"datum.f=='F10'&&datum.d==50"}],"encoding":{"x":{"field":"a","type":"nominal","scale":{"type":"point","domain":["A1","A2","A3","A4","A5","A6","A7","A8","A9","A10","A11"],"padding":0.45},"axis":{"title":null,"grid":true}}},"layer":[
{"mark":{"type":"rule","strokeDash":[3,2],"strokeWidth":1.1},"encoding":{"y":{"field":"lo","type":"quantitative","scale":{"domain":[3200,15200],"nice":false,"zero":false},"axis":{"values":[4000,6000,8000,10000,12000,14000],"tickCount":30,"labelOverlap":false,"title":"Function Values F₁₀"}},"y2":{"field":"hi"}}},
{"mark":{"type":"tick","size":5,"thickness":1.3},"encoding":{"y":{"field":"lo","type":"quantitative"}}},
{"mark":{"type":"tick","size":5,"thickness":1.3},"encoding":{"y":{"field":"hi","type":"quantitative"}}},
{"mark":{"type":"bar","width":10,"fill":"white","stroke":"black","strokeWidth":1.2},"encoding":{"y":{"field":"q1","type":"quantitative"},"y2":{"field":"q3"}}},
{"mark":{"type":"tick","size":10,"thickness":1.3},"encoding":{"y":{"field":"md","type":"quantitative"}}},
{"mark":{"type":"point","shape":"M-1,0H1M0,-1V1","size":24,"stroke":"#ff0000","strokeWidth":1.2,"filled":false},"encoding":{"y":{"field":"v","type":"quantitative"}}},
{"transform":[{"filter":"datum.a=='A1'&&isValid(datum.lo)"}],"mark":{"type":"text","text":"D = 50","baseline":"bottom","dy":-3,"fontSize":10.5,"fontWeight":"bold","color":"#111"},"encoding":{"x":{"datum":"A6"},"y":{"datum":15200,"type":"quantitative"}}}
]},
{"width":174,"height":130,"transform":[{"filter":"datum.f=='F10'&&datum.d==100"}],"encoding":{"x":{"field":"a","type":"nominal","scale":{"type":"point","domain":["A1","A2","A3","A4","A5","A6","A7","A8","A9","A10","A11"],"padding":0.45},"axis":{"title":null,"grid":true}}},"layer":[
{"mark":{"type":"rule","strokeDash":[3,2],"strokeWidth":1.1},"encoding":{"y":{"field":"lo","type":"quantitative","scale":{"domain":[0.84,3.32],"nice":false,"zero":false},"axis":{"values":[1,1.5,2,2.5,3],"tickCount":30,"labelOverlap":false,"title":"Function Values F₁₀"}},"y2":{"field":"hi"}}},
{"mark":{"type":"tick","size":5,"thickness":1.3},"encoding":{"y":{"field":"lo","type":"quantitative"}}},
{"mark":{"type":"tick","size":5,"thickness":1.3},"encoding":{"y":{"field":"hi","type":"quantitative"}}},
{"mark":{"type":"bar","width":10,"fill":"white","stroke":"black","strokeWidth":1.2},"encoding":{"y":{"field":"q1","type":"quantitative"},"y2":{"field":"q3"}}},
{"mark":{"type":"tick","size":10,"thickness":1.3},"encoding":{"y":{"field":"md","type":"quantitative"}}},
{"mark":{"type":"point","shape":"M-1,0H1M0,-1V1","size":24,"stroke":"#ff0000","strokeWidth":1.2,"filled":false},"encoding":{"y":{"field":"v","type":"quantitative"}}},
{"transform":[{"filter":"datum.a=='A1'&&isValid(datum.lo)"}],"mark":{"type":"text","text":"×10⁴","align":"left","baseline":"bottom","dx":-8,"dy":-2,"fontSize":9.5,"color":"#333"},"encoding":{"y":{"datum":3.32,"type":"quantitative"}}},
{"transform":[{"filter":"datum.a=='A1'&&isValid(datum.lo)"}],"mark":{"type":"text","text":"D = 100","baseline":"bottom","dy":-3,"fontSize":10.5,"fontWeight":"bold","color":"#111"},"encoding":{"x":{"datum":"A6"},"y":{"datum":3.32,"type":"quantitative"}}}
]}
]},
{"width":706,"height":40,"data":{"values":[{"t":"A1: SA\u00a0\u00a0 A2: CGA\u00a0\u00a0 A3: GWO\u00a0\u00a0 A4: MFO\u00a0\u00a0 A5:WOA\u00a0\u00a0 A6: LMFO\u00a0\u00a0 A7: WCMFO\u00a0\u00a0 A8: ChOA\u00a0\u00a0 A9: AOA\u00a0\u00a0 A10: SMFO\u00a0\u00a0 A11: I-MFO"}]},"mark":{"type":"text","fontWeight":"bold","fontSize":12.2,"font":"Liberation Serif","color":"black"},"encoding":{"text":{"field":"t"}},"view":{"stroke":"black","strokeWidth":1.2}}
],
"config": {
"font": "Liberation Serif",
"view": {"stroke": "#9a9a9a", "strokeWidth": 0.8},
"mark": {"color": "black", "invalid": "filter"},
"tick": {"opacity": 1},
"point": {"opacity": 1},
"axis": {"labelFont": "Liberation Serif", "labelFontSize": 10.5, "labelColor": "#262626", "titleFont": "Liberation Serif", "titleFontSize": 10.5, "titleFontWeight": "bold", "titleColor": "#111111", "gridColor": "#e6e6e6", "gridWidth": 0.8, "domain": false, "ticks": false, "labelOverlap": false},
"axisX": {"labelAngle": 0, "labelPadding": 3},
"axisY": {"labelPadding": 2.5, "labelFontSize": 10, "format": ",.6~g", "titleX": -30.5, "titleBaseline": "middle"}
}
}
